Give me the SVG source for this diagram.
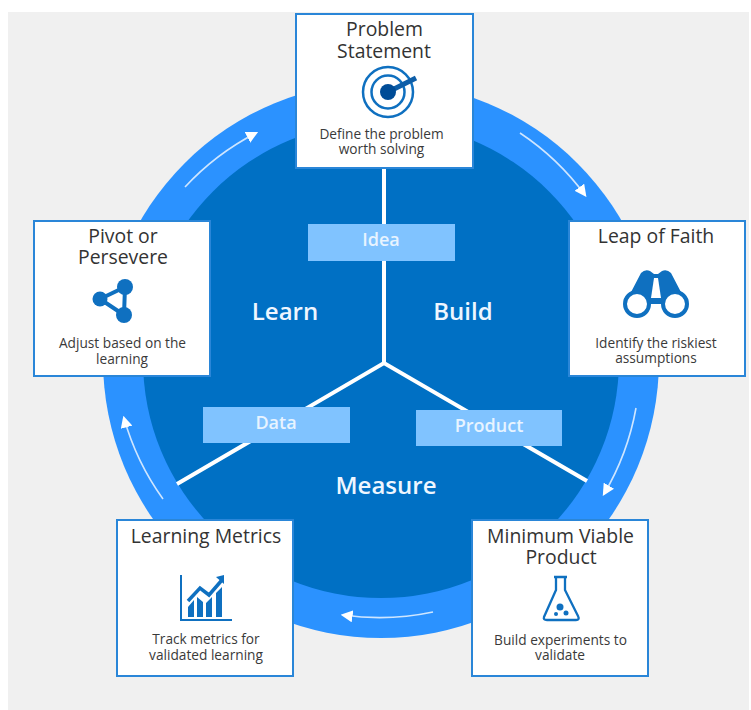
<svg xmlns="http://www.w3.org/2000/svg" width="751" height="710" viewBox="0 0 751 710">
<style>
text{font-family:"Open Sans","Noto Sans","Liberation Sans",sans-serif;text-anchor:middle}
.box{fill:#fff;stroke:#2a86d8;stroke-width:2}
.t{font-size:19.4px;fill:#333}
.s{font-size:13.7px;fill:#3a3a3a}
.c{font-size:24px;font-weight:600;fill:#eef6ff}
.l{font-size:18px;font-weight:600;fill:#e8f4ff}
.tag{fill:#80c3ff}
.spoke{stroke:#fff;stroke-width:4;fill:none}
.flow{stroke:#cfe6ff;stroke-width:1.6;fill:none;marker-end:url(#tip)}
.ic{fill:#0f70c0}
.il{fill:none;stroke:#0f70c0}
</style>
<defs>
<marker id="tip" viewBox="0 0 10 10" refX="8" refY="5" markerWidth="12" markerHeight="12" markerUnits="userSpaceOnUse" orient="auto"><path d="M0 0L10 5L0 10Z" fill="#fff"/></marker>
</defs>
<rect width="751" height="710" fill="#fff"/>
<rect x="8" y="12" width="741" height="698" fill="#f0f0f0"/>
<circle cx="381" cy="360" r="278" fill="#2b92ff"/>
<circle cx="381" cy="360" r="238" fill="#0070c4"/>
<g id="connectors">
<path class="spoke" d="M384 168V363"/>
<path class="spoke" d="M177 484L384 363L587 481"/>
<path class="flow" d="M520 133A258 258 0 0 1 585 195"/>
<path class="flow" d="M636 408A258 258 0 0 1 604 494"/>
<path class="flow" d="M433 612A258 258 0 0 1 343 615"/>
<path class="flow" d="M163 499A258 258 0 0 1 124 418"/>
<path class="flow" d="M185 187A258 258 0 0 1 256 133"/>
</g>
<g id="tag-idea"><rect class="tag" x="308" y="224" width="147" height="37"/><text class="l" x="381" y="246">Idea</text></g>
<g id="tag-data"><rect class="tag" x="203" y="407" width="147" height="36"/><text class="l" x="276" y="429">Data</text></g>
<g id="tag-product"><rect class="tag" x="416" y="410" width="146" height="36"/><text class="l" x="489" y="432">Product</text></g>
<g id="phases">
<text class="c" x="285" y="320">Learn</text>
<text class="c" x="463" y="320">Build</text>
<text class="c" x="386" y="494">Measure</text>
</g>
<g id="problem-statement">
<rect class="box" x="296" y="14" width="177" height="154"/>
<text class="t" x="384.500" y="36">Problem</text><text class="t" x="384" y="58">Statement</text>
<circle class="il" cx="388" cy="92" r="25" stroke-width="2.5"/>
<circle class="il" cx="388" cy="92" r="16.5" stroke-width="2.5"/>
<path d="M392 90L416 78" stroke="#0d5ea8" stroke-width="5" fill="none"/>
<circle cx="388" cy="92" r="8" fill="#004c97"/>
<text class="s" x="381.500" y="139">Define the problem</text><text class="s" x="381.500" y="154">worth solving</text>
</g>
<g id="leap-of-faith">
<rect class="box" x="569" y="221" width="176" height="155"/>
<text class="t" x="656" y="243">Leap of Faith</text>
<path class="ic" d="M629 296L641 273Q645 269 650 271L654 274H658L662 271Q667 269 671 273L683 296L675 304H637Z"/>
<path d="M654 278H658L661 298H651Z" fill="#fff"/>
<circle cx="637" cy="304" r="12" fill="#fff" stroke="#0f70c0" stroke-width="4"/>
<circle cx="675" cy="304" r="12" fill="#fff" stroke="#0f70c0" stroke-width="4"/>
<text class="s" x="656" y="348">Identify the riskiest</text><text class="s" x="656" y="363">assumptions</text>
</g>
<g id="pivot-or-persevere">
<rect class="box" x="34" y="221" width="176" height="155"/>
<text class="t" x="123" y="243">Pivot or</text><text class="t" x="123" y="264">Persevere</text>
<path class="il" d="M100 299L125 287L124 315Z" stroke-width="4"/>
<circle class="ic" cx="100" cy="299" r="7.500"/><circle class="ic" cx="125" cy="287" r="8"/><circle class="ic" cx="124" cy="315" r="8"/>
<text class="s" x="122.500" y="348">Adjust based on the</text><text class="s" x="122" y="364">learning</text>
</g>
<g id="learning-metrics">
<rect class="box" x="117" y="520" width="176" height="156"/>
<text class="t" x="206" y="543">Learning Metrics</text>
<path class="il" d="M181 575V620H232" stroke-width="2"/>
<path class="ic" d="M188 607L194 600V617H188ZM197 597L203 602V617H197ZM206 603L212 597V617H206ZM216 593L222 587V617H216Z"/>
<path class="il" d="M188 601L200 588L209 595L222 580" stroke-width="3.500"/>
<path class="ic" d="M216 577L224 575L224 584Z"/>
<text class="s" x="206" y="644">Track metrics for</text><text class="s" x="206" y="660">validated learning</text>
</g>
<g id="minimum-viable-product">
<rect class="box" x="472" y="520" width="176" height="156"/>
<text class="t" x="560.500" y="543">Minimum Viable</text><text class="t" x="561" y="564">Product</text>
<path class="il" d="M554 577H567M556 577V590L544 617Q543 620 547 620H576Q580 620 578 616L565 590V577" stroke-width="2.300"/>
<circle class="ic" cx="560" cy="607" r="3.500"/><circle class="ic" cx="566" cy="613" r="2.500"/><circle class="ic" cx="556" cy="614" r="2"/>
<text class="s" x="560.500" y="645">Build experiments to</text><text class="s" x="560" y="660">validate</text>
</g>
</svg>
